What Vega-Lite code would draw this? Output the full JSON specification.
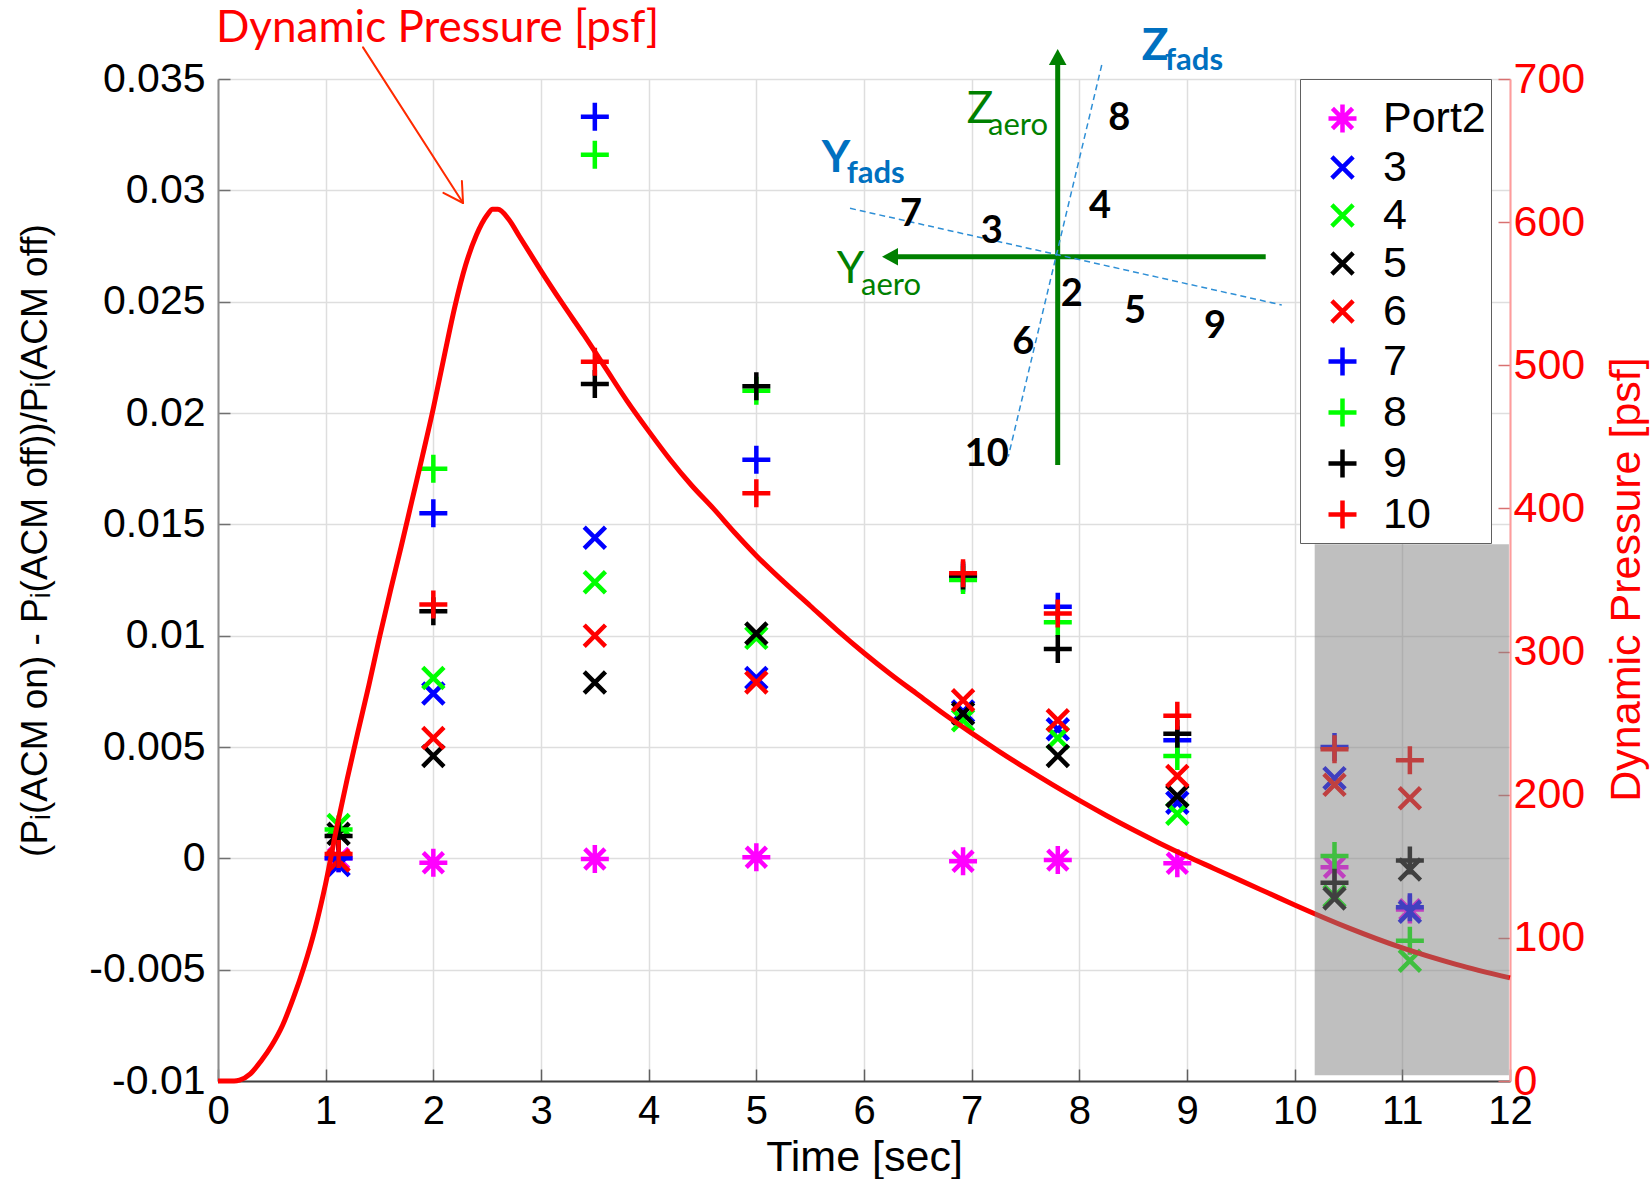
{
  "$schema": "https://vega.github.io/schema/vega-lite/v6.json",
  "width": 1292,
  "height": 1002,
  "autosize": {"type": "none"},
  "padding": {"left": 218, "top": 79, "right": 140, "bottom": 98},
  "background": "white",
  "config": {
    "view": {"stroke": null},
    "font": "Liberation Sans",
    "axis": {"labelFont": "Liberation Sans", "titleFont": "Liberation Sans", "titleFontWeight": "normal", "labelOverlap": false, "labelFlush": false, "labelBound": false}
  },
  "datasets": {
    "ports": [
      {"s": "Port2", "t": 1.12, "v": 0.0},
      {"s": "Port2", "t": 2.0, "v": -0.0002},
      {"s": "Port2", "t": 3.5, "v": -0.00003},
      {"s": "Port2", "t": 5.0, "v": 0.00005},
      {"s": "Port2", "t": 6.92, "v": -0.00013},
      {"s": "Port2", "t": 7.8, "v": -0.00008},
      {"s": "Port2", "t": 8.91, "v": -0.00022},
      {"s": "Port2", "t": 10.37, "v": -0.0004},
      {"s": "Port2", "t": 11.07, "v": -0.0023},
      {"s": "3", "t": 1.12, "v": -0.0003},
      {"s": "3", "t": 2.0, "v": 0.0074},
      {"s": "3", "t": 3.5, "v": 0.0144},
      {"s": "3", "t": 5.0, "v": 0.0081},
      {"s": "3", "t": 6.92, "v": 0.0066},
      {"s": "3", "t": 7.8, "v": 0.0058},
      {"s": "3", "t": 8.91, "v": 0.0025},
      {"s": "3", "t": 10.37, "v": 0.0036},
      {"s": "3", "t": 11.07, "v": -0.0024},
      {"s": "4", "t": 1.12, "v": 0.0015},
      {"s": "4", "t": 2.0, "v": 0.0081},
      {"s": "4", "t": 3.5, "v": 0.0124},
      {"s": "4", "t": 5.0, "v": 0.0099},
      {"s": "4", "t": 6.92, "v": 0.0062},
      {"s": "4", "t": 7.8, "v": 0.0054},
      {"s": "4", "t": 8.91, "v": 0.002},
      {"s": "4", "t": 10.37, "v": -0.0017},
      {"s": "4", "t": 11.07, "v": -0.0046},
      {"s": "5", "t": 1.12, "v": 0.0011},
      {"s": "5", "t": 2.0, "v": 0.0046},
      {"s": "5", "t": 3.5, "v": 0.0079},
      {"s": "5", "t": 5.0, "v": 0.0101},
      {"s": "5", "t": 6.92, "v": 0.0065},
      {"s": "5", "t": 7.8, "v": 0.0046},
      {"s": "5", "t": 8.91, "v": 0.0028},
      {"s": "5", "t": 10.37, "v": -0.0018},
      {"s": "5", "t": 11.07, "v": -0.0005},
      {"s": "6", "t": 1.12, "v": -0.0001},
      {"s": "6", "t": 2.0, "v": 0.0054},
      {"s": "6", "t": 3.5, "v": 0.01},
      {"s": "6", "t": 5.0, "v": 0.0079},
      {"s": "6", "t": 6.92, "v": 0.0071},
      {"s": "6", "t": 7.8, "v": 0.0062},
      {"s": "6", "t": 8.91, "v": 0.0037},
      {"s": "6", "t": 10.37, "v": 0.0033},
      {"s": "6", "t": 11.07, "v": 0.0027},
      {"s": "7", "t": 1.12, "v": 0.0},
      {"s": "7", "t": 2.0, "v": 0.0155},
      {"s": "7", "t": 3.5, "v": 0.0333},
      {"s": "7", "t": 5.0, "v": 0.0179},
      {"s": "7", "t": 6.92, "v": 0.0126},
      {"s": "7", "t": 7.8, "v": 0.0113},
      {"s": "7", "t": 8.91, "v": 0.0053},
      {"s": "7", "t": 10.37, "v": 0.005},
      {"s": "7", "t": 11.07, "v": -0.0022},
      {"s": "8", "t": 1.12, "v": 0.0013},
      {"s": "8", "t": 2.0, "v": 0.0175},
      {"s": "8", "t": 3.5, "v": 0.0316},
      {"s": "8", "t": 5.0, "v": 0.021},
      {"s": "8", "t": 6.92, "v": 0.0125},
      {"s": "8", "t": 7.8, "v": 0.0106},
      {"s": "8", "t": 8.91, "v": 0.0046},
      {"s": "8", "t": 10.37, "v": 0.0001},
      {"s": "8", "t": 11.07, "v": -0.0037},
      {"s": "9", "t": 1.12, "v": 0.001},
      {"s": "9", "t": 2.0, "v": 0.0111},
      {"s": "9", "t": 3.5, "v": 0.0213},
      {"s": "9", "t": 5.0, "v": 0.0212},
      {"s": "9", "t": 6.92, "v": 0.0127},
      {"s": "9", "t": 7.8, "v": 0.0094},
      {"s": "9", "t": 8.91, "v": 0.0056},
      {"s": "9", "t": 10.37, "v": -0.0011},
      {"s": "9", "t": 11.07, "v": -0.0001},
      {"s": "10", "t": 1.12, "v": 0.0002},
      {"s": "10", "t": 2.0, "v": 0.0114},
      {"s": "10", "t": 3.5, "v": 0.0223},
      {"s": "10", "t": 5.0, "v": 0.0164},
      {"s": "10", "t": 6.92, "v": 0.0128},
      {"s": "10", "t": 7.8, "v": 0.011},
      {"s": "10", "t": 8.91, "v": 0.0064},
      {"s": "10", "t": 10.37, "v": 0.0049},
      {"s": "10", "t": 11.07, "v": 0.0044}
    ],
    "dynpress": [
      {"t": 0, "q": 0}, {"t": 0.1, "q": 0}, {"t": 0.15, "q": 0}, {"t": 0.2, "q": 0.6},
      {"t": 0.3, "q": 5}, {"t": 0.4, "q": 14}, {"t": 0.5, "q": 25}, {"t": 0.6, "q": 39},
      {"t": 0.7, "q": 58}, {"t": 0.8, "q": 80}, {"t": 0.9, "q": 106}, {"t": 1.0, "q": 138},
      {"t": 1.1, "q": 176}, {"t": 1.2, "q": 211}, {"t": 1.3, "q": 244}, {"t": 1.4, "q": 276},
      {"t": 1.5, "q": 310}, {"t": 1.6, "q": 342}, {"t": 1.7, "q": 373}, {"t": 1.8, "q": 405},
      {"t": 1.9, "q": 437}, {"t": 2.0, "q": 470}, {"t": 2.1, "q": 506}, {"t": 2.2, "q": 541},
      {"t": 2.3, "q": 570}, {"t": 2.4, "q": 591}, {"t": 2.5, "q": 605}, {"t": 2.55, "q": 609},
      {"t": 2.6, "q": 609}, {"t": 2.7, "q": 602}, {"t": 2.8, "q": 590}, {"t": 2.9, "q": 578},
      {"t": 3.0, "q": 566}, {"t": 3.2, "q": 543}, {"t": 3.4, "q": 521}, {"t": 3.6, "q": 498},
      {"t": 3.8, "q": 475}, {"t": 4.0, "q": 454}, {"t": 4.2, "q": 434}, {"t": 4.4, "q": 416},
      {"t": 4.6, "q": 400}, {"t": 4.8, "q": 383}, {"t": 5.0, "q": 367}, {"t": 5.25, "q": 349},
      {"t": 5.5, "q": 332}, {"t": 5.75, "q": 315}, {"t": 6.0, "q": 299}, {"t": 6.25, "q": 284},
      {"t": 6.5, "q": 270}, {"t": 6.75, "q": 256}, {"t": 7.0, "q": 243}, {"t": 7.25, "q": 230.5},
      {"t": 7.5, "q": 218.5}, {"t": 7.75, "q": 207}, {"t": 8.0, "q": 196}, {"t": 8.25, "q": 185.5},
      {"t": 8.5, "q": 175.5}, {"t": 8.75, "q": 166}, {"t": 9.0, "q": 157}, {"t": 9.25, "q": 148.5},
      {"t": 9.5, "q": 140}, {"t": 9.75, "q": 131.5}, {"t": 10.0, "q": 123}, {"t": 10.5, "q": 107},
      {"t": 11.0, "q": 93}, {"t": 11.5, "q": 81.5}, {"t": 12.0, "q": 72}
    ]
  },
  "layer": [
    {
      "data": {"name": "ports"},
      "mark": {"type": "point", "filled": false, "strokeWidth": 4.5, "size": 784, "opacity": 1},
      "encoding": {
        "x": {
          "field": "t", "type": "quantitative",
          "scale": {"domain": [0, 12], "nice": false, "zero": false},
          "axis": {
            "values": [0, 1, 2, 3, 4, 5, 6, 7, 8, 9, 10, 11, 12],
            "format": "d",
            "grid": true, "gridColor": "#dedede", "gridWidth": 1.5,
            "domainColor": "#404040", "domainWidth": 2,
            "tickColor": "#606060", "tickSize": -12, "tickWidth": 1.5,
            "labelFontSize": 40, "labelColor": "black", "labelPadding": 22,
            "title": "Time [sec]", "titleFontSize": 43, "titleColor": "black",
            "titleY": 89, "titleBaseline": "alphabetic"
          }
        },
        "y": {
          "field": "v", "type": "quantitative",
          "scale": {"domain": [-0.01, 0.035], "nice": false, "zero": false},
          "axis": {
            "orient": "left",
            "values": [-0.01, -0.005, 0, 0.005, 0.01, 0.015, 0.02, 0.025, 0.03, 0.035],
            "labelExpr": "replace(format(datum.value, '~g'), '\u2212', '-')",
            "grid": true, "gridColor": "#dedede", "gridWidth": 1.5,
            "domainColor": "#8c8c8c", "domainWidth": 2,
            "tickColor": "#707070", "tickSize": -12, "tickWidth": 1.5,
            "labelFontSize": 41, "labelColor": "black", "labelPadding": 25,
            "title": "(P\u1d62(ACM on) - P\u1d62(ACM off))/P\u1d62(ACM off)",
            "titleFontSize": 37, "titleColor": "black",
            "titleAngle": 270, "titleX": -183, "titleY": 461,
            "titleBaseline": "middle", "titleAlign": "center"
          }
        },
        "color": {
          "field": "s", "type": "nominal",
          "scale": {
            "domain": ["Port2", "3", "4", "5", "6", "7", "8", "9", "10"],
            "range": ["#ff00ff", "#0000ff", "#00ff00", "#000000", "#ff0000", "#0000ff", "#00ff00", "#000000", "#ff0000"]
          },
          "legend": {
            "title": " ", "titleFontSize": 2, "titlePadding": 11,
            "orient": "none", "legendX": 1082, "legendY": 0,
            "padding": 5, "rowPadding": 4, "symbolOffset": 16, "labelOffset": 19,
            "labelFontSize": 43, "labelFont": "Liberation Sans", "labelColor": "black",
            "symbolSize": 784, "symbolStrokeWidth": 4.5,
            "strokeColor": "#606060", "fillColor": "white"
          }
        },
        "shape": {
          "field": "s", "type": "nominal",
          "scale": {
            "domain": ["Port2", "3", "4", "5", "6", "7", "8", "9", "10"],
            "range": [
              "M-1,0L1,0M0,-1L0,1M-0.72,-0.72L0.72,0.72M-0.72,0.72L0.72,-0.72",
              "M-0.76,-0.76L0.76,0.76M-0.76,0.76L0.76,-0.76",
              "M-0.76,-0.76L0.76,0.76M-0.76,0.76L0.76,-0.76",
              "M-0.76,-0.76L0.76,0.76M-0.76,0.76L0.76,-0.76",
              "M-0.76,-0.76L0.76,0.76M-0.76,0.76L0.76,-0.76",
              "M-1,0L1,0M0,-1L0,1",
              "M-1,0L1,0M0,-1L0,1",
              "M-1,0L1,0M0,-1L0,1",
              "M-1,0L1,0M0,-1L0,1"
            ]
          },
          "legend": {
            "title": " ", "titleFontSize": 2, "titlePadding": 11,
            "orient": "none", "legendX": 1082, "legendY": 0,
            "padding": 5, "rowPadding": 4, "symbolOffset": 16, "labelOffset": 19,
            "labelFontSize": 43, "labelFont": "Liberation Sans", "labelColor": "black",
            "symbolSize": 784, "symbolStrokeWidth": 4.5,
            "strokeColor": "#606060", "fillColor": "white"
          }
        }
      }
    },
    {
      "data": {"name": "dynpress"},
      "mark": {"type": "line", "color": "#ff0000", "strokeWidth": 5, "interpolate": "monotone"},
      "encoding": {
        "x": {"field": "t", "type": "quantitative"},
        "y": {
          "field": "q", "type": "quantitative",
          "scale": {"domain": [0, 700], "nice": false, "zero": false},
          "axis": {
            "orient": "right",
            "values": [0, 100, 200, 300, 400, 500, 600, 700],
            "grid": false,
            "domainColor": "#ff9c9c", "domainWidth": 2,
            "tickColor": "#d87070", "tickSize": -12, "tickWidth": 1.5,
            "labelFontSize": 43, "labelColor": "#ff0000", "labelPadding": 15,
            "title": "Dynamic Pressure [psf]", "titleFontSize": 43, "titleColor": "#ff0000",
            "titleAngle": 270, "titleX": 116, "titleY": 500,
            "titleBaseline": "middle", "titleAlign": "center"
          }
        }
      }
    },
    {
      "data": {"values": [{"t0": 10.186, "t1": 11.99, "v0": -0.00974, "v1": 0.0141}]},
      "mark": {"type": "rect", "color": "#808080", "opacity": 0.5},
      "encoding": {
        "x": {"field": "t0", "type": "quantitative"},
        "x2": {"field": "t1"},
        "y": {"field": "v0", "type": "quantitative", "scale": {"domain": [-0.01, 0.035], "nice": false, "zero": false}, "axis": null},
        "y2": {"field": "v1"}
      }
    },
    {
      "layer": [
        {
          "data": {"values": [
            {"t": 7.799, "v": 0.017665, "t2": 7.799, "v2": 0.035629},
            {"t": 9.731, "v": 0.027019, "t2": 6.316, "v2": 0.027019}
          ]},
          "mark": {"type": "rule", "color": "#008000", "strokeWidth": 5},
          "encoding": {
            "x": {"field": "t", "type": "quantitative"},
            "x2": {"field": "t2"},
            "y": {"field": "v", "type": "quantitative", "scale": {"domain": [-0.01, 0.035], "nice": false, "zero": false}, "axis": null},
            "y2": {"field": "v2"}
          }
        },
        {
          "data": {"values": [{"t": 7.799, "v": 0.035629}]},
          "mark": {"type": "point", "filled": true, "color": "#008000", "opacity": 1, "size": 1024, "shape": "M0,-1L-0.55,0L0.55,0Z"},
          "encoding": {
            "x": {"field": "t", "type": "quantitative"},
            "y": {"field": "v", "type": "quantitative", "scale": {"domain": [-0.01, 0.035], "nice": false, "zero": false}, "axis": null}
          }
        },
        {
          "data": {"values": [{"t": 6.316, "v": 0.027019}]},
          "mark": {"type": "point", "filled": true, "color": "#008000", "opacity": 1, "size": 1024, "shape": "M-1,0L0,-0.55L0,0.55Z"},
          "encoding": {
            "x": {"field": "t", "type": "quantitative"},
            "y": {"field": "v", "type": "quantitative", "scale": {"domain": [-0.01, 0.035], "nice": false, "zero": false}, "axis": null}
          }
        },
        {
          "data": {"values": [
            {"t": 5.87, "v": 0.029193, "t2": 9.88, "v2": 0.02485},
            {"t": 8.208, "v": 0.035629, "t2": 7.34, "v2": 0.018038}
          ]},
          "mark": {"type": "rule", "color": "#2e8fd6", "strokeWidth": 1.5, "strokeDash": [6, 4]},
          "encoding": {
            "x": {"field": "t", "type": "quantitative"},
            "x2": {"field": "t2"},
            "y": {"field": "v", "type": "quantitative", "scale": {"domain": [-0.01, 0.035], "nice": false, "zero": false}, "axis": null},
            "y2": {"field": "v2"}
          }
        },
        {
          "data": {"values": [
            {"t": 1.347, "v": 0.036419, "t2": 2.276, "v2": 0.029431},
            {"t": 2.276, "v": 0.029431, "t2": 2.2653, "v2": 0.030419},
            {"t": 2.276, "v": 0.029431, "t2": 2.0935, "v2": 0.029885}
          ]},
          "mark": {"type": "rule", "color": "#ff2a00", "strokeWidth": 2, "strokeCap": "round"},
          "encoding": {
            "x": {"field": "t", "type": "quantitative"},
            "x2": {"field": "t2"},
            "y": {"field": "v", "type": "quantitative", "scale": {"domain": [-0.01, 0.035], "nice": false, "zero": false}, "axis": null},
            "y2": {"field": "v2"}
          }
        },
        {
          "data": {"values": [{"t": -0.019, "v": 0.03664, "label": "Dynamic Pressure [psf]"}]},
          "mark": {"type": "text", "font": "Lato", "fontSize": 44, "color": "#ff0000", "align": "left", "baseline": "alphabetic"},
          "encoding": {
            "x": {"field": "t", "type": "quantitative"},
            "y": {"field": "v", "type": "quantitative", "scale": {"domain": [-0.01, 0.035], "nice": false, "zero": false}, "axis": null},
            "text": {"field": "label"}
          }
        },
        {
          "data": {"values": [
            {"t": 8.579, "v": 0.035853, "label": "Z"},
            {"t": 5.607, "v": 0.030837, "label": "Y"}
          ]},
          "mark": {"type": "text", "font": "Lato", "fontWeight": "bold", "fontSize": 44, "color": "#0070c0", "align": "left", "baseline": "alphabetic"},
          "encoding": {
            "x": {"field": "t", "type": "quantitative"},
            "y": {"field": "v", "type": "quantitative", "scale": {"domain": [-0.01, 0.035], "nice": false, "zero": false}, "axis": null},
            "text": {"field": "label"}
          }
        },
        {
          "data": {"values": [
            {"t": 8.796, "v": 0.035404, "label": "fads"},
            {"t": 5.839, "v": 0.030343, "label": "fads"}
          ]},
          "mark": {"type": "text", "font": "Lato", "fontWeight": "bold", "fontSize": 31, "color": "#0070c0", "align": "left", "baseline": "alphabetic"},
          "encoding": {
            "x": {"field": "t", "type": "quantitative"},
            "y": {"field": "v", "type": "quantitative", "scale": {"domain": [-0.01, 0.035], "nice": false, "zero": false}, "axis": null},
            "text": {"field": "label"}
          }
        },
        {
          "data": {"values": [
            {"t": 6.954, "v": 0.03301, "label": "Z"},
            {"t": 5.746, "v": 0.025838, "label": "Y"}
          ]},
          "mark": {"type": "text", "font": "Lato", "fontSize": 44, "color": "#008000", "align": "left", "baseline": "alphabetic"},
          "encoding": {
            "x": {"field": "t", "type": "quantitative"},
            "y": {"field": "v", "type": "quantitative", "scale": {"domain": [-0.01, 0.035], "nice": false, "zero": false}, "axis": null},
            "text": {"field": "label"}
          }
        },
        {
          "data": {"values": [
            {"t": 7.152, "v": 0.032485, "label": "aero"},
            {"t": 5.972, "v": 0.0253, "label": "aero"}
          ]},
          "mark": {"type": "text", "font": "Lato", "fontSize": 31, "color": "#008000", "align": "left", "baseline": "alphabetic"},
          "encoding": {
            "x": {"field": "t", "type": "quantitative"},
            "y": {"field": "v", "type": "quantitative", "scale": {"domain": [-0.01, 0.035], "nice": false, "zero": false}, "axis": null},
            "text": {"field": "label"}
          }
        },
        {
          "data": {"values": [
            {"t": 8.371, "v": 0.033204, "label": "8"},
            {"t": 8.192, "v": 0.029265, "label": "4"},
            {"t": 6.437, "v": 0.028892, "label": "7"},
            {"t": 7.186, "v": 0.028142, "label": "3"},
            {"t": 7.929, "v": 0.0253, "label": "2"},
            {"t": 8.517, "v": 0.024549, "label": "5"},
            {"t": 9.26, "v": 0.023876, "label": "9"},
            {"t": 7.48, "v": 0.02313, "label": "6"},
            {"t": 7.14, "v": 0.018114, "label": "10"}
          ]},
          "mark": {"type": "text", "font": "Lato", "fontWeight": "bold", "fontSize": 38, "color": "#000000", "align": "center", "baseline": "middle"},
          "encoding": {
            "x": {"field": "t", "type": "quantitative"},
            "y": {"field": "v", "type": "quantitative", "scale": {"domain": [-0.01, 0.035], "nice": false, "zero": false}, "axis": null},
            "text": {"field": "label"}
          }
        }
      ]
    }
  ],
  "resolve": {"scale": {"y": "independent"}}
}
